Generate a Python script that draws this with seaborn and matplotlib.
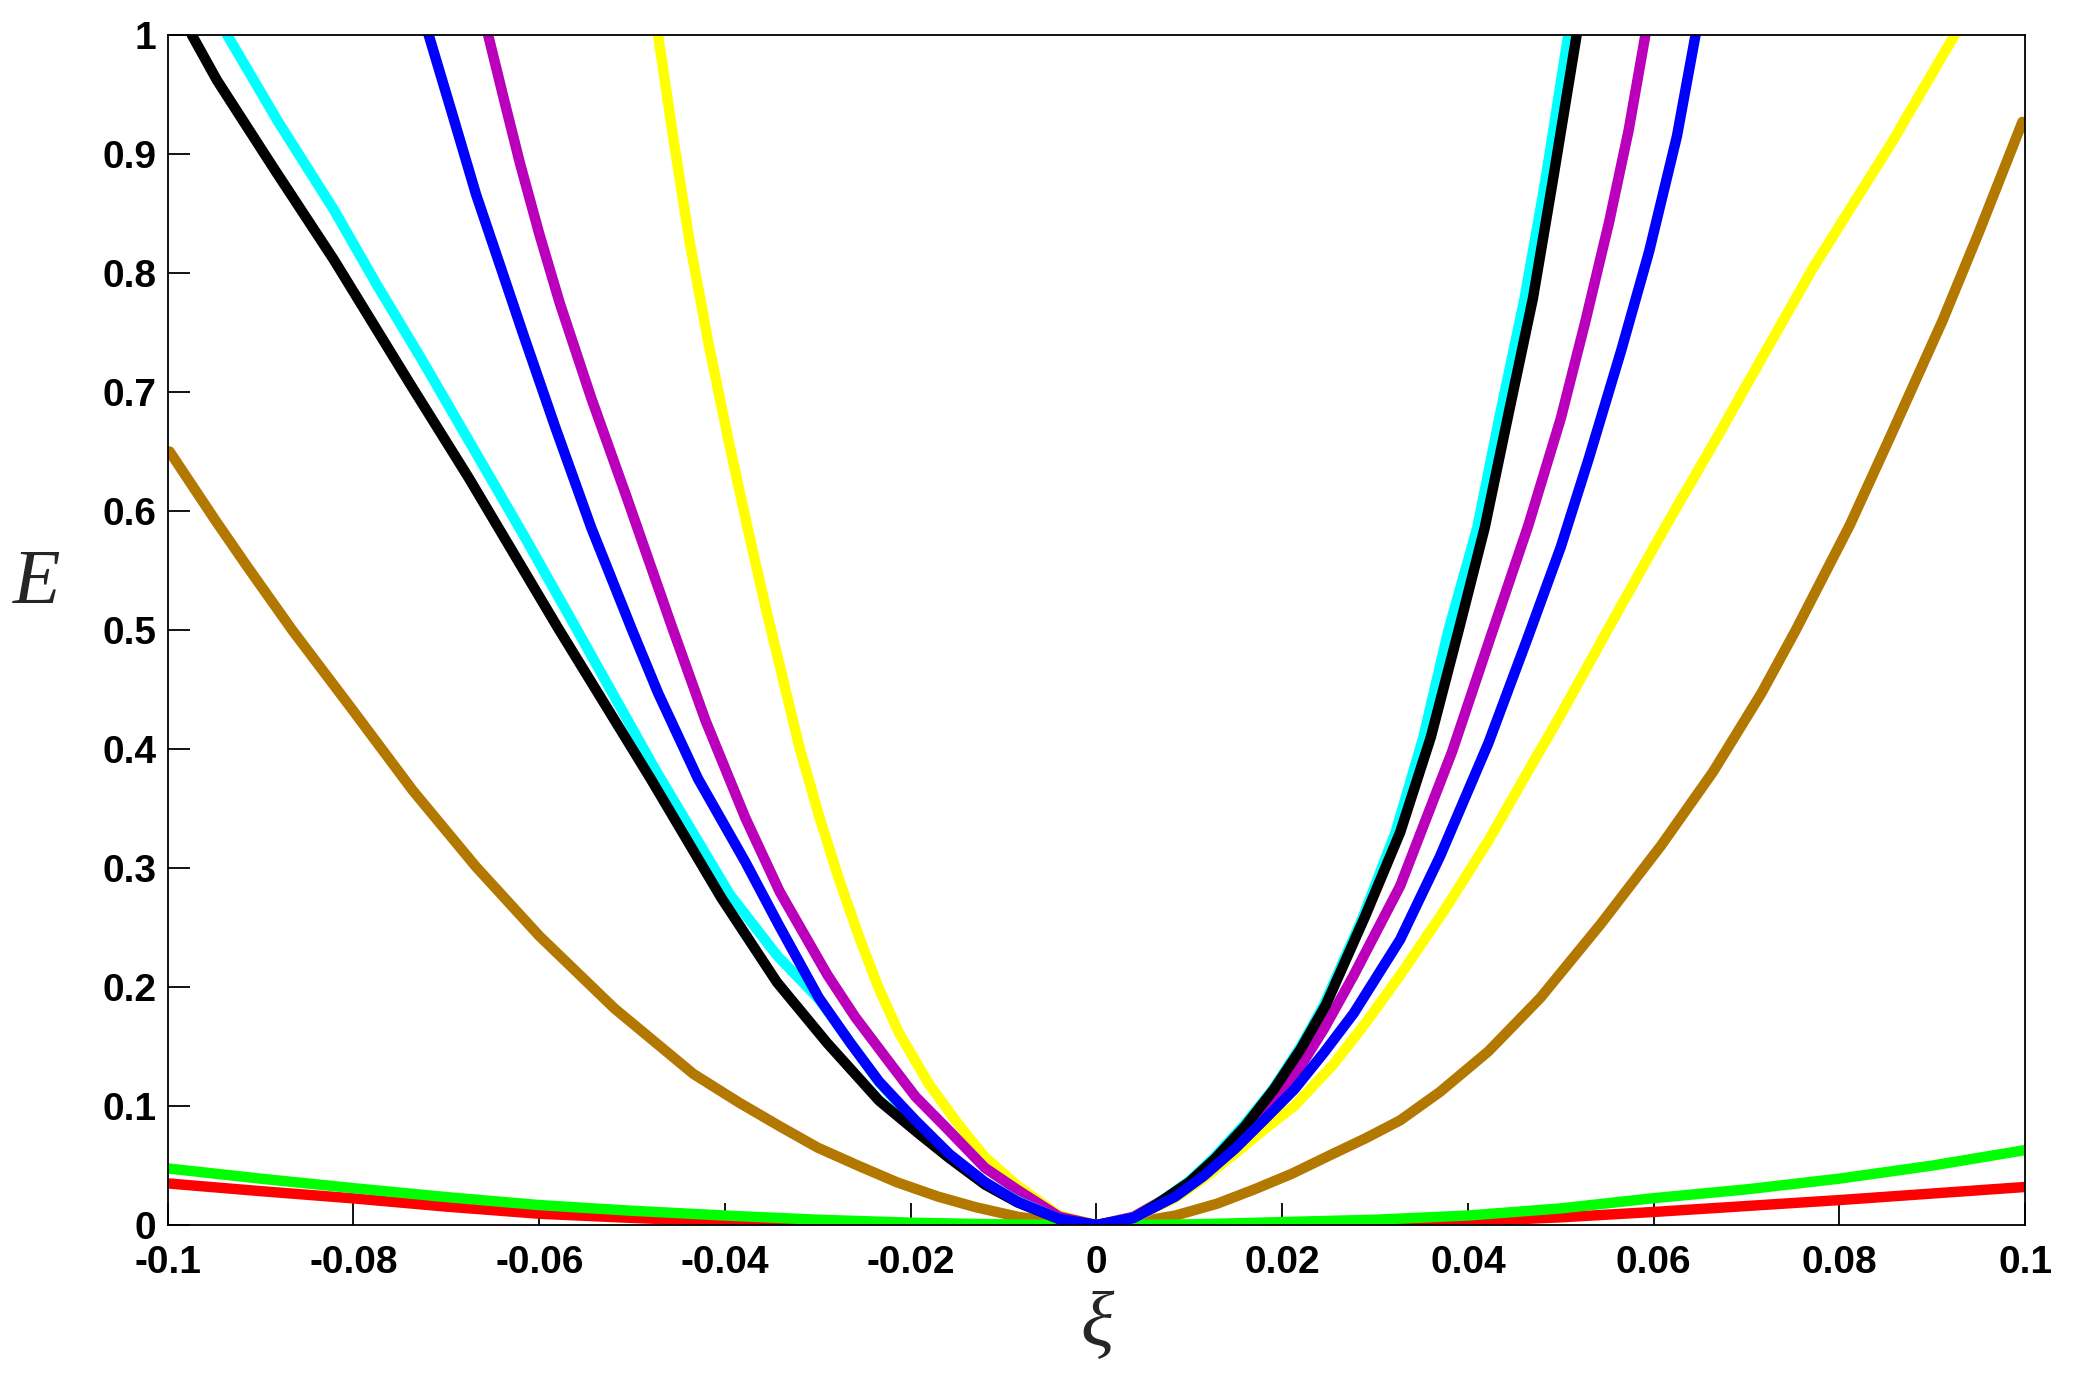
import numpy as np
import pandas as pd
import seaborn as sns
import matplotlib.pyplot as plt

# values (xi, E)
black_xi = [-0.0974, -0.0947, -0.0885, -0.0821, -0.0740, -0.0676, -0.0580, -0.0480, -0.0404, -0.0344,
            -0.0290, -0.0234, -0.0190, -0.0158, -0.0120, -0.0085, -0.0040, 0.0, 0.0040, 0.0064,
            0.0100, 0.0128, 0.0160, 0.0191, 0.0220, 0.0247, 0.0289, 0.0327, 0.0360, 0.0390,
            0.0418, 0.0444, 0.0470, 0.0491, 0.0517]
black_E = [1.0, 0.962, 0.887, 0.811, 0.708, 0.628, 0.502, 0.375, 0.275, 0.204,
           0.153, 0.1045, 0.076, 0.056, 0.034, 0.019, 0.005, 0.0, 0.006, 0.017,
           0.036, 0.056, 0.083, 0.114, 0.148, 0.185, 0.259, 0.33, 0.41, 0.50,
           0.586, 0.683, 0.779, 0.876, 1.0]

cyan_xi = [-0.0936, -0.0881, -0.0821, -0.0774, -0.0727, -0.0672, -0.0617, -0.0561, -0.0476, -0.0395,
           -0.0344, -0.0299, -0.0234, -0.0190, -0.0158, -0.0120, -0.0085, -0.0040, 0.0, 0.0040,
           0.0064, 0.0100, 0.0126, 0.0160, 0.0190, 0.0220, 0.0245, 0.0287, 0.0322, 0.0352,
           0.0379, 0.0410, 0.0435, 0.0461, 0.0483, 0.0508]
cyan_E = [1.0, 0.927, 0.853, 0.789, 0.728, 0.654, 0.580, 0.5025, 0.384, 0.278,
          0.2266, 0.19, 0.12, 0.082, 0.059, 0.036, 0.020, 0.005, 0.0, 0.006,
          0.017, 0.037, 0.056, 0.085, 0.114, 0.150, 0.185, 0.259, 0.33, 0.41,
          0.50, 0.586, 0.683, 0.779, 0.876, 1.0]

blue_xi = [-0.0719, -0.0693, -0.0668, -0.0642, -0.0617, -0.0583, -0.0544, -0.0500, -0.0472, -0.0429,
           -0.0378, -0.0342, -0.0299, -0.0265, -0.0234, -0.0195, -0.0158, -0.0120, -0.0085, -0.0040,
           0.0, 0.0040, 0.0085, 0.0115, 0.0149, 0.0180, 0.0213, 0.0245, 0.0277, 0.0327,
           0.0370, 0.0422, 0.0465, 0.0500, 0.0530, 0.0565, 0.0595, 0.0625, 0.0645]
blue_E = [1.0, 0.932, 0.866, 0.806, 0.748, 0.671, 0.586, 0.50, 0.447, 0.375,
          0.305, 0.252, 0.191, 0.153, 0.1205, 0.088, 0.0594, 0.036, 0.0195, 0.005,
          0.0, 0.006, 0.024, 0.041, 0.064, 0.088, 0.114, 0.145, 0.178, 0.240,
          0.310, 0.405, 0.495, 0.570, 0.644, 0.735, 0.818, 0.915, 1.0]

magenta_xi = [-0.0655, -0.0638, -0.0621, -0.0600, -0.0578, -0.0544, -0.0506, -0.0457, -0.0421, -0.0378,
              -0.0341, -0.0290, -0.0260, -0.0226, -0.0195, -0.0162, -0.0120, -0.0085, -0.0040, 0.0,
              0.0040, 0.0085, 0.0115, 0.0149, 0.0180, 0.0213, 0.0245, 0.0277, 0.0327, 0.0383,
              0.0426, 0.0465, 0.0500, 0.0526, 0.0552, 0.0573, 0.0591]
magenta_E = [1.0, 0.946, 0.893, 0.833, 0.775, 0.695, 0.612, 0.5025, 0.424, 0.342,
             0.280, 0.2106, 0.175, 0.1398, 0.108, 0.0819, 0.048, 0.0295, 0.007, 0.0,
             0.007, 0.027, 0.046, 0.071, 0.097, 0.125, 0.165, 0.21, 0.285, 0.398,
             0.498, 0.588, 0.678, 0.758, 0.843, 0.920, 1.0]

yellow_xi = [-0.0472, -0.0455, -0.0438, -0.0417, -0.0395, -0.0374, -0.0355, -0.0341, -0.0320, -0.0298,
             -0.0277, -0.0256, -0.0235, -0.0213, -0.0180, -0.0149, -0.0120, -0.0085, -0.0040, 0.0,
             0.0040, 0.0085, 0.0115, 0.0149, 0.0180, 0.0213, 0.0255, 0.0290, 0.0327, 0.0375,
             0.0422, 0.0460, 0.0500, 0.0552, 0.0612, 0.0669, 0.0716, 0.0772, 0.0855, 0.0924]
yellow_E = [1.0, 0.910, 0.826, 0.738, 0.655, 0.580, 0.515, 0.470, 0.402, 0.342,
            0.290, 0.243, 0.200, 0.162, 0.118, 0.085, 0.057, 0.033, 0.008, 0.0,
            0.006, 0.023, 0.039, 0.060, 0.080, 0.100, 0.135, 0.170, 0.21, 0.265,
            0.323, 0.375, 0.429, 0.5025, 0.586, 0.663, 0.728, 0.805, 0.908, 1.0]

brown_xi = [-0.0998, -0.0949, -0.0915, -0.0866, -0.0804, -0.0736, -0.0668, -0.0600, -0.0519, -0.0434,
            -0.0385, -0.0341, -0.0300, -0.0256, -0.0215, -0.0171, -0.0130, -0.0085, -0.0040, 0.0,
            0.0040, 0.0085, 0.0130, 0.0170, 0.0210, 0.0255, 0.0290, 0.0327, 0.0370, 0.0422,
            0.0478, 0.0543, 0.0608, 0.0664, 0.0716, 0.0753, 0.0811, 0.0855, 0.0911, 0.0950,
            0.0997]
brown_E = [0.650, 0.5925, 0.554, 0.50, 0.436, 0.365, 0.301, 0.243, 0.182, 0.127,
           0.103, 0.083, 0.065, 0.0497, 0.036, 0.024, 0.015, 0.007, 0.002, 0.0,
           0.002, 0.008, 0.018, 0.030, 0.043, 0.060, 0.073, 0.088, 0.112, 0.146,
           0.191, 0.253, 0.319, 0.381, 0.447, 0.50, 0.588, 0.663, 0.760, 0.834,
           0.927]

green_xi = [-0.1, -0.09, -0.08, -0.07, -0.06, -0.05, -0.04, -0.03, -0.02, -0.01, 0.0,
            0.01, 0.02, 0.03, 0.04, 0.05, 0.06, 0.07, 0.08, 0.09, 0.1]
green_E = [0.0476, 0.039, 0.031, 0.0235, 0.0168, 0.012, 0.008, 0.0045, 0.002, 0.0005, 0.0,
           0.0005, 0.0025, 0.0045, 0.008, 0.014, 0.0226, 0.030, 0.039, 0.050, 0.063]

red_xi = [-0.1, -0.09, -0.08, -0.07, -0.06, -0.05, -0.04, -0.03, -0.02, -0.01, 0.0,
          0.01, 0.02, 0.03, 0.04, 0.05, 0.06, 0.07, 0.08, 0.09, 0.1]
red_E = [0.035, 0.0285, 0.0224, 0.0155, 0.0095, 0.006, 0.003, 0.0015, 0.0005, 0.0001, 0.0,
         0.0001, 0.0005, 0.0015, 0.003, 0.0065, 0.011, 0.016, 0.021, 0.0265, 0.032]

xtick_vals = [-0.1, -0.08, -0.06, -0.04, -0.02, 0.0, 0.02, 0.04, 0.06, 0.08, 0.1]
xtick_labels = ["-0.1", "-0.08", "-0.06", "-0.04", "-0.02", "0", "0.02", "0.04", "0.06", "0.08", "0.1"]
ytick_vals = [0.0, 0.1, 0.2, 0.3, 0.4, 0.5, 0.6, 0.7, 0.8, 0.9, 1.0]
ytick_labels = ["0", "0.1", "0.2", "0.3", "0.4", "0.5", "0.6", "0.7", "0.8", "0.9", "1"]

sns.set_style("white")
plt.rcParams['font.family'] = ['Liberation Sans', 'DejaVu Sans']

fig = plt.figure(figsize=(20.81, 13.74), dpi=100)
ax = fig.add_axes([0.0806, 0.1084, 0.8926, 0.8661])

# drawing order: bottom to top
curves = [
    (red_xi, red_E, "#FF0000"),
    (brown_xi, brown_E, "#B27800"),
    (green_xi, green_E, "#00FF00"),
    (yellow_xi, yellow_E, "#FFFF00"),
    (magenta_xi, magenta_E, "#BB00BB"),
    (cyan_xi, cyan_E, "#00FFFF"),
    (black_xi, black_E, "#000000"),
    (blue_xi, blue_E, "#0000FF"),
]
for xs, ys, c in curves:
    sns.lineplot(x=xs, y=ys, color=c, linewidth=7.5, ax=ax, estimator=None)

ax.set_xlim(-0.1, 0.1)
ax.set_ylim(0, 1)
ax.set_xticks(xtick_vals)
ax.set_xticklabels(xtick_labels)
ax.set_yticks(ytick_vals)
ax.set_yticklabels(ytick_labels)
ax.tick_params(direction='in', length=16, width=1.3, labelsize=28, colors='black',
               left=True, bottom=True, top=False, right=False)
ax.tick_params(axis='y', pad=8)
ax.tick_params(axis='x', pad=14)
for lbl in ax.get_xticklabels() + ax.get_yticklabels():
    lbl.set_fontweight('bold')

for sp in ax.spines.values():
    sp.set_color('black')
    sp.set_linewidth(1.3)

ax.set_ylabel("E", fontsize=56, fontstyle='italic', family='Liberation Serif',
              rotation=0, va='center', ha='center')
ax.yaxis.set_label_coords(-0.0704, 0.5387)
ax.set_xlabel("ξ", fontsize=56, fontstyle='italic', family='Liberation Serif',
              va='center', ha='center')
ax.xaxis.set_label_coords(0.5, -0.0857)

fig.savefig("out.png", dpi=100)
